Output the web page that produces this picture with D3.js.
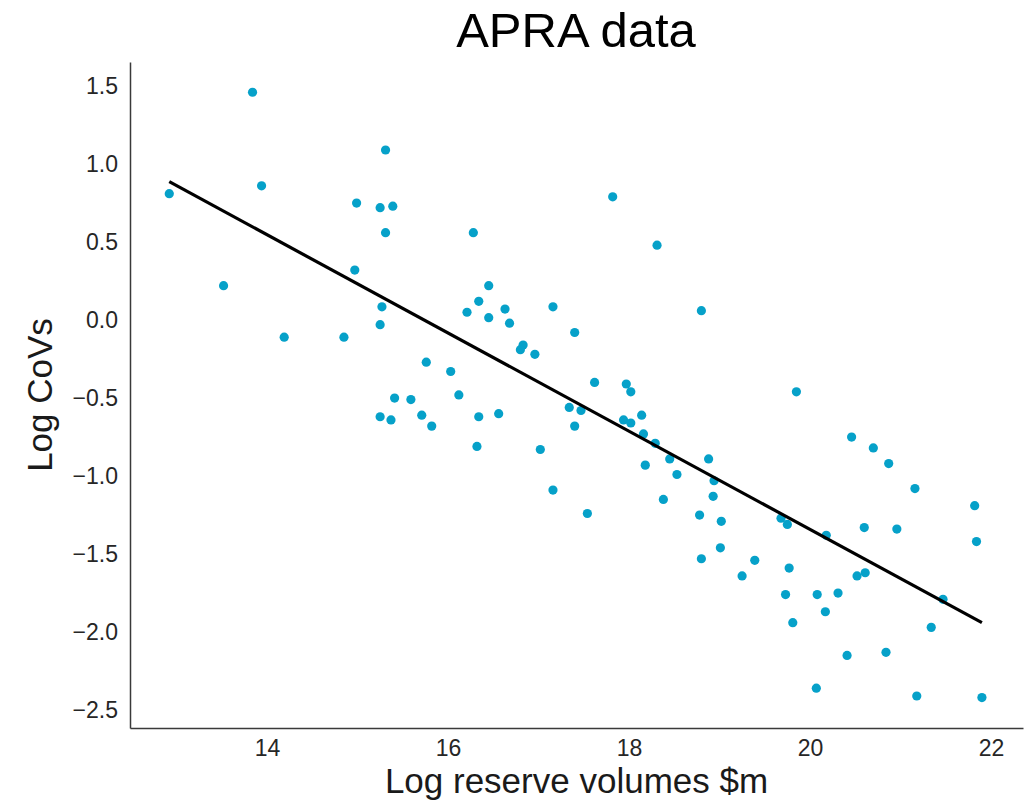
<!DOCTYPE html>
<html lang="en">

<head>
    <meta charset="UTF-8" />
    <title>APRA data</title>
    <script src="https://d3js.org/d3.v7.min.js"></script>
    <style>
        body { margin: 0; background: #fff; }
        text { font-family: "Liberation Sans", Arial, sans-serif; }
    </style>
</head>

<body>
    <svg id="svg" width="1030" height="805"></svg>
</body>
<script>

// log reserve volumes ($m)
const logVolume = [
  12.92, 13.84, 13.94, 13.52, 14.19, 14.85, 14.97, 14.99, 15.25, 15.39,
  15.31, 15.31, 15.27, 15.25, 15.41, 15.59, 15.25, 15.37, 15.71, 15.82,
  15.76, 16.03, 16.12, 16.28, 16.45, 16.34, 16.21, 16.45, 16.63, 16.68,
  16.83, 16.80, 16.96, 17.16, 17.40, 17.82, 18.31, 18.80, 17.62, 17.97,
  18.02, 16.34, 16.56, 16.32, 17.02, 17.34, 17.47, 17.40, 17.94, 18.02,
  18.14, 18.16, 18.29, 18.45, 18.88, 18.18, 18.53, 18.94, 18.93, 17.16,
  18.38, 17.54, 18.78, 19.02, 19.01, 18.80, 19.85, 20.46, 20.70, 20.87,
  21.16, 21.82, 20.60, 20.96, 21.84, 19.68, 19.75, 20.18, 19.39, 19.25,
  19.77, 20.52, 20.61, 19.73, 20.08, 20.31, 21.47, 20.17, 19.81, 21.34,
  20.41, 20.84, 20.07, 21.18, 21.90
]

// log coefficients of variation
const logCov = [
  0.81, 1.46, 0.86, 0.22, -0.11, -0.11, 0.32, 0.75, 0.72, 0.73,
  1.09, 0.56, 0.085, -0.03, -0.50, -0.51, -0.62, -0.64, -0.61, -0.68,
  -0.27, -0.33, -0.48, 0.56, 0.22, 0.12, 0.05, 0.015, 0.07, -0.02,
  -0.16, -0.19, -0.22, 0.085, -0.08, 0.79, 0.48, 0.06, -0.40, -0.41,
  -0.46, -0.62, -0.60, -0.81, -0.83, -0.56, -0.58, -0.68, -0.64, -0.66,
  -0.61, -0.73, -0.79, -0.89, -0.89, -0.93, -0.99, -1.03, -1.13, -1.09,
  -1.15, -1.24, -1.25, -1.29, -1.46, -1.53, -0.46, -0.75, -0.82, -0.92,
  -1.08, -1.19, -1.33, -1.34, -1.42, -1.27, -1.31, -1.38, -1.54, -1.64,
  -1.59, -1.64, -1.62, -1.76, -1.76, -1.75, -1.79, -1.87, -1.94, -1.97,
  -2.15, -2.13, -2.36, -2.41, -2.42
]

// fitted line
const fitSlope = -0.3148
const fitIntercept = 4.954

const xTicks = [14, 16, 18, 20, 22]
const yTicks = [1.5, 1.0, 0.5, 0.0, -0.5, -1.0, -1.5, -2.0, -2.5]

const width = 1030, height = 805
const margin = { top: 62, right: 7, bottom: 77, left: 130 }

const svg = d3.select('#svg')

const x = d3.scaleLinear()
  .domain([12.486, 22.354])
  .range([margin.left, width - margin.right])

const y = d3.scaleLinear()
  .domain([-2.615, 1.654])
  .range([height - margin.bottom, margin.top])

// 轴
svg.append('g')
  .attr('transform', `translate(0,${height - margin.bottom})`)
  .call(d3.axisBottom(x).tickValues(xTicks).tickSize(0).tickPadding(12).tickFormat(d3.format('d')))

svg.append('g')
  .attr('transform', `translate(${margin.left},0)`)
  .call(d3.axisLeft(y).tickValues(yTicks).tickSize(0).tickPadding(12).tickFormat(d3.format('.1f')))

svg.selectAll('.domain')
  .attr('stroke', '#3a3a3a')
  .attr('stroke-width', 1.5)

svg.selectAll('.tick text')
  .attr('fill', '#262626')
  .style('font-size', '23px')
  .style('font-family', '"Liberation Sans", Arial, sans-serif')

// points
const pts = logVolume.map((v, i) => ({ v: v, c: logCov[i] }))

svg.append('g')
  .selectAll('circle')
  .data(pts)
  .enter()
  .append('circle')
  .attr('cx', d => x(d.v))
  .attr('cy', d => y(d.c))
  .attr('r', 4.6)
  .attr('fill', '#06a1c9')

// regression line
const xr = d3.extent(logVolume)
svg.append('line')
  .attr('x1', x(xr[0]))
  .attr('y1', y(fitIntercept + fitSlope * xr[0]))
  .attr('x2', x(xr[1]))
  .attr('y2', y(fitIntercept + fitSlope * xr[1]))
  .attr('stroke', '#000')
  .attr('stroke-width', 3.2)

// labels
svg.append('text')
  .attr('x', 576)
  .attr('y', 47)
  .attr('text-anchor', 'middle')
  .style('font-size', '49px')
  .attr('fill', '#000')
  .text('APRA data')

svg.append('text')
  .attr('x', (margin.left + width - margin.right) / 2)
  .attr('y', 793)
  .attr('text-anchor', 'middle')
  .style('font-size', '35px')
  .attr('fill', '#1a1a1a')
  .text('Log reserve volumes $m')

svg.append('text')
  .attr('transform', `translate(52,${(margin.top + height - margin.bottom) / 2}) rotate(-90)`)
  .attr('text-anchor', 'middle')
  .style('font-size', '35px')
  .attr('fill', '#1a1a1a')
  .text('Log CoVs')

</script>

</html>
